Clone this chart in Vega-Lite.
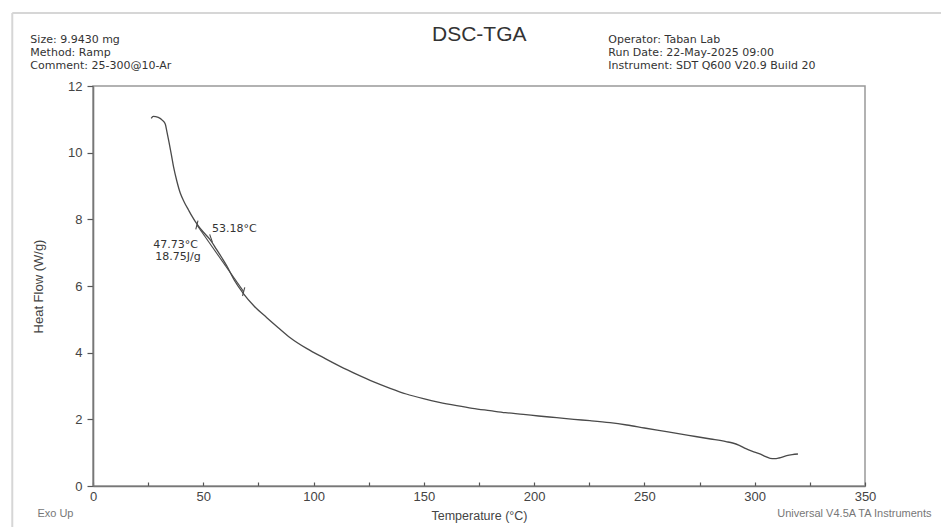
{
  "$schema": "https://vega.github.io/schema/vega-lite/v6.json",
  "autosize": {"type": "none"},
  "width": 772,
  "height": 400,
  "padding": {"left": 93, "top": 86, "right": 76, "bottom": 41},
  "background": "white",
  "config": {
    "view": {"stroke": "#999999", "strokeWidth": 1.5},
    "font": "Liberation Sans",
    "text": {"font": "Liberation Sans"}
  },
  "datasets": {
    "curve": [
      {"T": 26.4, "HF": 11.03}, {"T": 27.3, "HF": 11.09}, {"T": 29.6, "HF": 11.06}, {"T": 31.5, "HF": 10.97},
      {"T": 32.8, "HF": 10.85}, {"T": 33.5, "HF": 10.63}, {"T": 34.5, "HF": 10.3}, {"T": 35.5, "HF": 9.95},
      {"T": 36.5, "HF": 9.58}, {"T": 38.0, "HF": 9.15}, {"T": 39.6, "HF": 8.78}, {"T": 41.5, "HF": 8.5},
      {"T": 43.3, "HF": 8.28}, {"T": 45.0, "HF": 8.08}, {"T": 46.4, "HF": 7.93}, {"T": 48, "HF": 7.78},
      {"T": 50, "HF": 7.62}, {"T": 53, "HF": 7.40}, {"T": 56, "HF": 7.10}, {"T": 58.5, "HF": 6.84},
      {"T": 60.7, "HF": 6.60}, {"T": 64, "HF": 6.18}, {"T": 68.1, "HF": 5.78}, {"T": 73, "HF": 5.40},
      {"T": 78.8, "HF": 5.05}, {"T": 84, "HF": 4.75}, {"T": 89.4, "HF": 4.45}, {"T": 97, "HF": 4.12},
      {"T": 104.5, "HF": 3.85}, {"T": 112, "HF": 3.59}, {"T": 119.6, "HF": 3.35}, {"T": 127, "HF": 3.13},
      {"T": 134.7, "HF": 2.93}, {"T": 142, "HF": 2.76}, {"T": 149.8, "HF": 2.62}, {"T": 157, "HF": 2.51},
      {"T": 164.9, "HF": 2.41}, {"T": 172, "HF": 2.33}, {"T": 180, "HF": 2.26}, {"T": 187, "HF": 2.20},
      {"T": 195.1, "HF": 2.15}, {"T": 202, "HF": 2.10}, {"T": 210.2, "HF": 2.05}, {"T": 218, "HF": 2.00},
      {"T": 225.3, "HF": 1.96}, {"T": 234.4, "HF": 1.90}, {"T": 242, "HF": 1.83}, {"T": 250, "HF": 1.74},
      {"T": 260, "HF": 1.63}, {"T": 270, "HF": 1.52}, {"T": 280, "HF": 1.41}, {"T": 287, "HF": 1.33},
      {"T": 290, "HF": 1.29}, {"T": 293, "HF": 1.22}, {"T": 296, "HF": 1.12}, {"T": 299, "HF": 1.04},
      {"T": 302, "HF": 0.97}, {"T": 305, "HF": 0.88}, {"T": 307, "HF": 0.83}, {"T": 309, "HF": 0.82},
      {"T": 311, "HF": 0.84}, {"T": 314.5, "HF": 0.91}, {"T": 317, "HF": 0.94}, {"T": 319.6, "HF": 0.96}
    ],
    "segments": [
      {"kind": "baseline", "x": 47.1, "y": 7.83, "x2": 68.3, "y2": 5.83},
      {"kind": "limit", "x": 46.6, "y": 7.70, "x2": 47.6, "y2": 7.96},
      {"kind": "limit", "x": 67.8, "y": 5.70, "x2": 68.8, "y2": 5.96},
      {"kind": "peak", "x": 52.9, "y": 7.55, "x2": 54.2, "y2": 7.30}
    ],
    "borders": [
      {"x": -36.6, "y": 14.19, "x2": 384.5, "y2": 14.19},
      {"x": -36.6, "y": 14.19, "x2": -36.6, "y2": -1.3}
    ],
    "annotations": [
      {"x": 53.9, "y": 7.71, "label": "53.18°C"},
      {"x": 27.3, "y": 7.224, "label": "47.73°C"},
      {"x": 28.2, "y": 6.876, "label": "18.75J/g"}
    ],
    "header": [
      {"x": -28.4, "y": 13.38, "label": "Size:  9.9430 mg"},
      {"x": -28.4, "y": 12.99, "label": "Method: Ramp"},
      {"x": -28.4, "y": 12.60, "label": "Comment: 25-300@10-Ar"},
      {"x": 233.6, "y": 13.38, "label": "Operator: Taban Lab"},
      {"x": 233.6, "y": 12.99, "label": "Run Date: 22-May-2025 09:00"},
      {"x": 233.6, "y": 12.60, "label": "Instrument: SDT Q600 V20.9 Build 20"}
    ],
    "footer": [
      {"x": -25.2, "y": -0.84, "label": "Exo Up"},
      {"x": 310.2, "y": -0.84, "label": "Universal V4.5A TA Instruments"}
    ],
    "maintitle": [
      {"x": 175.1, "y": 13.35, "label": "DSC-TGA"}
    ]
  },
  "layer": [
    {
      "data": {"name": "borders"},
      "mark": {"type": "rule", "color": "#d6d6d6", "strokeWidth": 2, "clip": false},
      "encoding": {
        "x": {"field": "x", "type": "quantitative", "scale": {"domain": [0, 350], "nice": false}},
        "x2": {"field": "x2"},
        "y": {"field": "y", "type": "quantitative", "scale": {"domain": [0, 12], "nice": false}},
        "y2": {"field": "y2"}
      }
    },
    {
      "data": {"name": "curve"},
      "mark": {"type": "line", "color": "#4a4a4a", "strokeWidth": 1.3, "interpolate": "monotone"},
      "encoding": {
        "x": {
          "field": "T", "type": "quantitative",
          "scale": {"domain": [0, 350], "nice": false},
          "axis": {
            "title": "Temperature (°C)",
            "titleFont": "Liberation Sans", "titleFontSize": 12.5, "titleFontWeight": "normal", "titleColor": "#444444",
            "titlePadding": 6,
            "values": [0, 12.5, 25, 37.5, 50, 62.5, 75, 87.5, 100, 112.5, 125, 137.5, 150, 162.5, 175, 187.5, 200, 212.5, 225, 237.5, 250, 262.5, 275, 287.5, 300, 312.5, 325, 337.5, 350],
            "labelExpr": "datum.value % 50 === 0 ? format(datum.value, 'd') : ''",
            "labelOverlap": false, "labelFlush": false,
            "labelFont": "Liberation Sans", "labelFontSize": 13, "labelColor": "#444444",
            "labelPadding": 8,
            "tickSize": -4, "tickColor": "#555555", "tickWidth": 1.2,
            "domainColor": "#777777", "domainWidth": 1.6,
            "grid": false
          }
        },
        "y": {
          "field": "HF", "type": "quantitative",
          "scale": {"domain": [0, 12], "nice": false},
          "axis": {
            "title": "Heat Flow (W/g)",
            "titleFont": "Liberation Sans", "titleFontSize": 13, "titleFontWeight": "normal", "titleColor": "#444444",
            "titleX": -55, "titleY": 200, "titleBaseline": "middle", "titleAlign": "center",
            "values": [0, 0.5, 1, 1.5, 2, 2.5, 3, 3.5, 4, 4.5, 5, 5.5, 6, 6.5, 7, 7.5, 8, 8.5, 9, 9.5, 10, 10.5, 11, 11.5, 12],
            "labelExpr": "datum.value % 2 === 0 ? format(datum.value, 'd') : ''",
            "labelOverlap": false, "labelFlush": false,
            "labelFont": "Liberation Sans", "labelFontSize": 13, "labelColor": "#444444",
            "labelPadding": 5,
            "tickSize": {"condition": {"test": "datum.value % 2 === 0", "value": 6}, "value": 3},
            "tickColor": "#555555", "tickWidth": 1.2,
            "domainColor": "#777777", "domainWidth": 1.6,
            "grid": false
          }
        }
      }
    },
    {
      "data": {"name": "segments"},
      "mark": {"type": "rule", "color": "#4a4a4a", "strokeWidth": 1.1},
      "encoding": {
        "x": {"field": "x", "type": "quantitative"},
        "x2": {"field": "x2"},
        "y": {"field": "y", "type": "quantitative"},
        "y2": {"field": "y2"}
      }
    },
    {
      "data": {"name": "annotations"},
      "mark": {"type": "text", "align": "left", "baseline": "middle", "fontSize": 11, "color": "#333333", "font": "DejaVu Sans"},
      "encoding": {
        "x": {"field": "x", "type": "quantitative"},
        "y": {"field": "y", "type": "quantitative"},
        "text": {"field": "label"}
      }
    },
    {
      "data": {"name": "header"},
      "mark": {"type": "text", "align": "left", "baseline": "middle", "fontSize": 11, "color": "#333333", "font": "DejaVu Sans"},
      "encoding": {
        "x": {"field": "x", "type": "quantitative"},
        "y": {"field": "y", "type": "quantitative"},
        "text": {"field": "label"}
      }
    },
    {
      "data": {"name": "footer"},
      "mark": {"type": "text", "align": "left", "baseline": "middle", "fontSize": 11, "color": "#777777", "font": "Liberation Sans"},
      "encoding": {
        "x": {"field": "x", "type": "quantitative"},
        "y": {"field": "y", "type": "quantitative"},
        "text": {"field": "label"}
      }
    },
    {
      "data": {"name": "maintitle"},
      "mark": {"type": "text", "align": "center", "baseline": "alphabetic", "fontSize": 21, "color": "#333333", "font": "Liberation Sans"},
      "encoding": {
        "x": {"field": "x", "type": "quantitative"},
        "y": {"field": "y", "type": "quantitative"},
        "text": {"field": "label"}
      }
    }
  ]
}
